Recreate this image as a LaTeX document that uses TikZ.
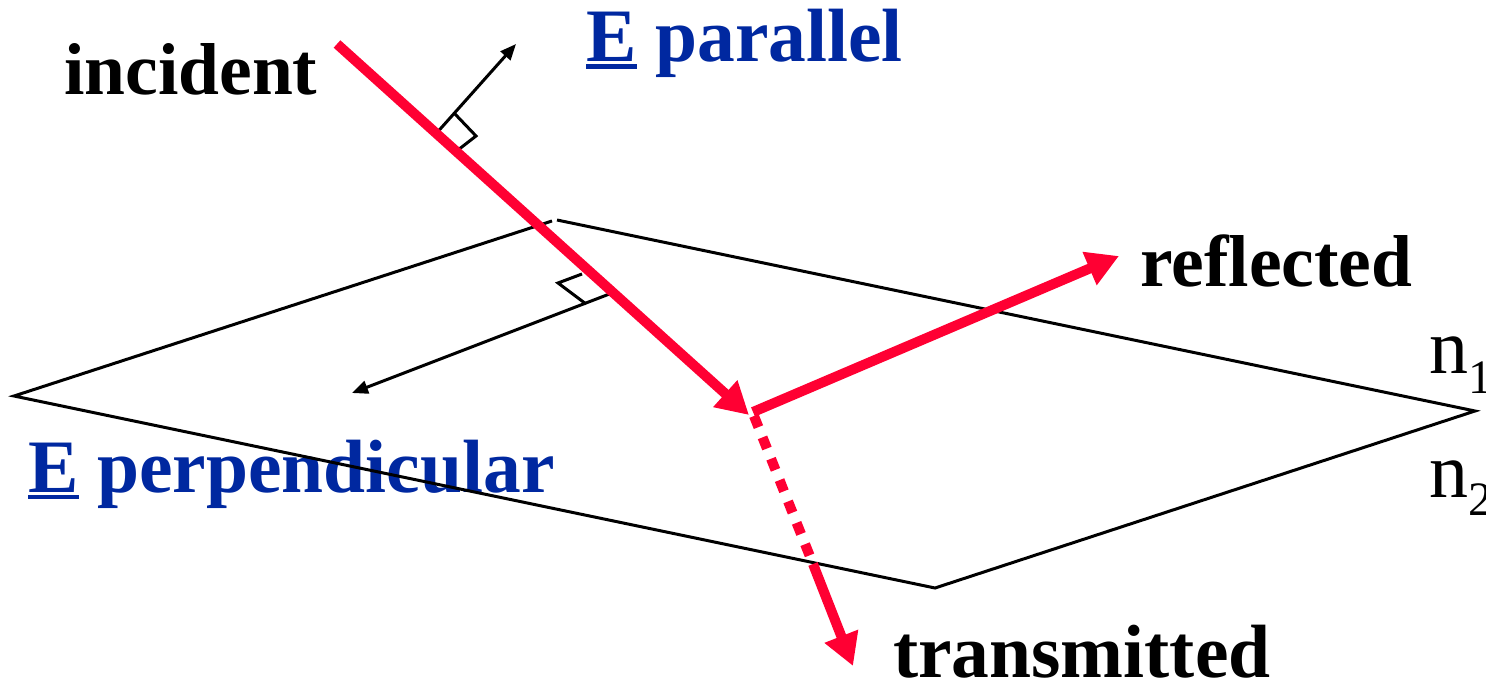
\documentclass[tikz,border=0pt]{standalone}
\usepackage{fontspec}
\setmainfont{Liberation Serif}
\usetikzlibrary{arrows.meta}
\definecolor{rayred}{RGB}{255,0,51}
\definecolor{eblue}{RGB}{0,40,160}
\newcommand\uE{\setbox0\hbox{E}\rlap{\rule[-7pt]{\wd0}{4.5pt}}\box0}
\tikzset{
  lbl/.style={anchor=base west,inner sep=0pt,font=\fontsize{73.5}{80}\selectfont\bfseries},
  lblb/.style={anchor=base west,inner sep=0pt,font=\fontsize{75.5}{80}\selectfont\bfseries},
  nlbl/.style={anchor=base west,inner sep=0pt,font=\fontsize{78}{84}\selectfont},
  plane/.style={line width=3pt,line join=miter},
  ray/.style={line width=10pt,rayred},
  bigtip/.style={-{Triangle[length=32pt,width=34pt]}},
  efield/.style={line width=3pt,-{Triangle[length=16pt,width=13pt]}},
  rmark/.style={line width=3pt}
}
\begin{document}
\begin{tikzpicture}[x=1pt,y=-1pt]
\useasboundingbox (0,0) rectangle (1486,687);
% labels
\node[lbl] (tinc) at (64,95) {incident};
\node[lblb,text=eblue] (tpar) at (586,62) {\uE{} parallel};
\node[lblb,text=eblue] (tperp) at (28,492) {\uE{} perpendicular};
\node[lbl] (tref) at (1140,287) {reflected};
\node[lblb] (ttra) at (893,677) {transmitted};
\node[nlbl] (tn1) at (1429,373) {n\raisebox{-20pt}{\fontsize{48}{54}\selectfont 1}};
\node[nlbl] (tn2) at (1429,497) {n\raisebox{-18pt}{\fontsize{48}{54}\selectfont 2}};
% plane
\coordinate (ptA) at (557,220);
\coordinate (ptB) at (552,221);
\coordinate (pR) at (1475,411);
\coordinate (pB) at (935,588);
\coordinate (pL) at (14,396);
\draw[plane] (ptA) -- (pR) -- (pB) -- (pL) -- (ptB);
% E parallel
\coordinate (parS) at (434,136);
\coordinate (parE) at (516,44);
\draw[efield] (parS) -- (parE);
\coordinate (pa1) at (455,114);
\coordinate (pa2) at (476,136);
\coordinate (pa3) at (458,150);
\draw[rmark] (pa1) -- (pa2) -- (pa3);
% E perpendicular
\coordinate (perS) at (612,293);
\coordinate (perE) at (352,393);
\draw[efield] (perS) -- (perE);
\coordinate (pe1) at (582,274);
\coordinate (pe2) at (558,283);
\coordinate (pe3) at (586,304);
\draw[rmark] (pe1) -- (pe2) -- (pe3);
% rays
\coordinate (incS) at (337,44);
\coordinate (incE) at (749,415);
\coordinate (refS) at (753,412);
\coordinate (refE) at (1119,256);
\coordinate (traS) at (754,416);
\coordinate (traM) at (813,564);
\coordinate (traE) at (853,666);
\draw[ray,bigtip] (incS) -- (incE);
\draw[ray,bigtip] (refS) -- (refE);
\draw[ray,dash pattern=on 12pt off 11pt] (traS) -- (traM);
\draw[ray,bigtip] (traM) -- (traE);
\end{tikzpicture}
\end{document}
